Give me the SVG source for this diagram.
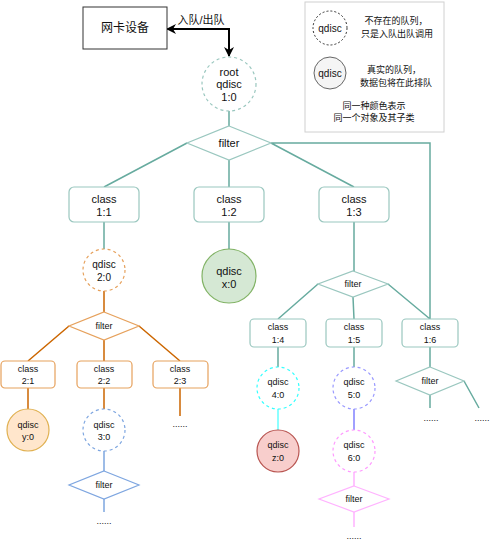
<svg xmlns="http://www.w3.org/2000/svg" width="500" height="541" viewBox="0 0 500 541">
<defs>
<marker id="ah" viewBox="0 0 10 10" refX="9" refY="5" markerWidth="5" markerHeight="5" orient="auto-start-reverse" markerUnits="strokeWidth">
<path d="M0,0 L10,5 L0,10 L3,5 z" fill="#000"/>
</marker>
</defs>
<style>
text{font-family:"Liberation Sans","Noto Sans CJK SC",sans-serif;fill:#111;text-anchor:middle;dominant-baseline:central}
.f12{font-size:12px}.f11{font-size:11px}.f10{font-size:10px}.f9{font-size:9px}
.e{fill:none;stroke-width:1.5}
.teal{stroke:#67AB9F}.org{stroke:#CC6600}.blu{stroke:#7EA6E0}.cya{stroke:#66FFFF}.pur{stroke:#8080FF}.pnk{stroke:#FFB3FF}
.nt{fill:#fff;stroke:#9AC7BF;stroke-width:1.2}
.no{fill:#fff;stroke:#E6A15C;stroke-width:1.2}
.dash{stroke-dasharray:3 3}
</style>
<rect width="500" height="541" fill="#fff"/>
<g id="connectors">
<path class="e" d="M167,29 H229 V56" stroke="#000" stroke-width="2" marker-start="url(#ah)" marker-end="url(#ah)" style="stroke:#000;stroke-width:2"/>
<path class="e teal" d="M229,111 V126 M187,143 L104,187 M229,160 V187 M271,143 L354,187 M271,143 H430 V319 M104,222 V249 M229,222 V249 M354,222 V271 M318,284 L278,319 M353,297 L354,319 M388,284 L430,319 M278,347 V367 M354,347 V367 M430,347 V367 M430,395 V408 M464,381 L479,408"/>
<path class="e org" d="M104,291 V312 M69,326 L28,361 M104,340 V361 M139,326 L180,361 M28,388 V409 M104,388 V409 M180,388 V416"/>
<path class="e blu" d="M104,451 V471 M104,499 V512"/>
<path class="e cya" d="M278,409 V430"/>
<path class="e pur" d="M354,409 V430"/>
<path class="e pnk" d="M354,472 V486 M354,512 V527"/>
<rect x="183" y="14" width="38" height="13" fill="#fff"/>
<text class="f11" x="201" y="20">入队/出队</text>
</g>
<g id="nic"><rect x="83" y="7" width="84" height="42" fill="#fff" stroke="#333"/><text class="f12" x="125" y="28">网卡设备</text></g>
<g id="root"><circle cx="229" cy="84" r="27" class="nt dash"/><text class="f11" x="229" y="72">root</text><text class="f11" x="229" y="84">qdisc</text><text class="f11" x="229" y="97">1:0</text></g>
<g id="filter1"><polygon points="229,126 271,143 229,160 187,143" class="nt"/><text class="f11" x="229" y="143">filter</text></g>
<g id="class11"><rect x="69" y="187" width="70" height="35" rx="5" class="nt"/><text class="f11" x="104" y="199">class</text><text class="f11" x="104" y="212">1:1</text></g>
<g id="class12"><rect x="194" y="187" width="70" height="35" rx="5" class="nt"/><text class="f11" x="229" y="199">class</text><text class="f11" x="229" y="212">1:2</text></g>
<g id="class13"><rect x="319" y="187" width="70" height="35" rx="5" class="nt"/><text class="f11" x="354" y="199">class</text><text class="f11" x="354" y="212">1:3</text></g>
<g id="qdisc20"><circle cx="104" cy="270" r="21" class="no dash"/><text class="f10" x="104" y="264">qdisc</text><text class="f10" x="104" y="277">2:0</text></g>
<g id="qdiscx0"><circle cx="229" cy="276" r="27" fill="#d5e8d4" stroke="#82b366" stroke-width="1.2"/><text class="f11" x="229" y="271">qdisc</text><text class="f11" x="229" y="284">x:0</text></g>
<g id="filter13"><polygon points="353,271 388,284 353,297 318,284" class="nt"/><text class="f9" x="353" y="284">filter</text></g>
<g id="class14"><rect x="250" y="319" width="56" height="28" rx="4" class="nt"/><text class="f9" x="278" y="327">class</text><text class="f9" x="278" y="340">1:4</text></g>
<g id="class15"><rect x="326" y="319" width="56" height="28" rx="4" class="nt"/><text class="f9" x="354" y="327">class</text><text class="f9" x="354" y="340">1:5</text></g>
<g id="class16"><rect x="402" y="319" width="56" height="28" rx="4" class="nt"/><text class="f9" x="430" y="327">class</text><text class="f9" x="430" y="340">1:6</text></g>
<g id="qdisc40"><circle cx="278" cy="388" r="21" fill="#fff" stroke="#33FFFF" stroke-width="1.2" class="dash"/><text class="f9" x="278" y="382">qdisc</text><text class="f9" x="278" y="395">4:0</text></g>
<g id="qdisc50"><circle cx="354" cy="388" r="21" fill="#fff" stroke="#9999FF" stroke-width="1.2" class="dash"/><text class="f9" x="354" y="382">qdisc</text><text class="f9" x="354" y="395">5:0</text></g>
<g id="filter16"><polygon points="430,367 464,381 430,395 396,381" class="nt"/><text class="f9" x="430" y="381">filter</text></g>
<g id="qdiscz0"><circle cx="278" cy="451" r="21" fill="#f8cecc" stroke="#b85450" stroke-width="1.2"/><text class="f9" x="278" y="445">qdisc</text><text class="f9" x="278" y="458">z:0</text></g>
<g id="qdisc60"><circle cx="354" cy="451" r="21" fill="#fff" stroke="#FF99FF" stroke-width="1.2" class="dash"/><text class="f9" x="354" y="445">qdisc</text><text class="f9" x="354" y="458">6:0</text></g>
<g id="filter60"><polygon points="354,486 389,499 354,512 319,499" fill="#fff" stroke="#FFB3FF" stroke-width="1.2"/><text class="f9" x="354" y="499">filter</text></g>
<g id="filter20"><polygon points="104,312 139,326 104,340 69,326" class="no"/><text class="f9" x="104" y="326">filter</text></g>
<g id="class21"><rect x="1" y="361" width="54" height="27" rx="4" class="no"/><text class="f9" x="28" y="369">class</text><text class="f9" x="28" y="381">2:1</text></g>
<g id="class22"><rect x="77" y="361" width="55" height="27" rx="4" class="no"/><text class="f9" x="104" y="369">class</text><text class="f9" x="104" y="381">2:2</text></g>
<g id="class23"><rect x="153" y="361" width="55" height="27" rx="4" class="no"/><text class="f9" x="180" y="369">class</text><text class="f9" x="180" y="381">2:3</text></g>
<g id="qdiscy0"><circle cx="28" cy="430" r="21" fill="#ffe6cc" stroke="#E0B050" stroke-width="1.2"/><text class="f9" x="28" y="425">qdisc</text><text class="f9" x="28" y="437">y:0</text></g>
<g id="qdisc30"><circle cx="104" cy="430" r="21" fill="#fff" stroke="#7EA6E0" stroke-width="1.2" class="dash"/><text class="f9" x="104" y="425">qdisc</text><text class="f9" x="104" y="437">3:0</text></g>
<g id="filter30"><polygon points="104,471 139,485 104,499 69,485" fill="#fff" stroke="#7EA6E0" stroke-width="1.2"/><text class="f9" x="104" y="485">filter</text></g>
<g id="dots">
<text class="f9" x="180" y="424">......</text>
<text class="f9" x="104" y="521">......</text>
<text class="f9" x="431" y="418">......</text>
<text class="f9" x="482" y="418">......</text>
<text class="f9" x="354" y="536">......</text>
</g>
<g id="legend">
<rect x="305" y="2" width="139" height="130" fill="#fff" stroke="#D0D0D0"/>
<circle cx="330" cy="28" r="17" fill="#fff" stroke="#333" stroke-dasharray="2 2"/>
<text class="f10" x="330" y="28">qdisc</text>
<text class="f9" x="396" y="21">不存在的队列，</text>
<text class="f9" x="397" y="34">只是入队出队调用</text>
<circle cx="330" cy="73" r="16" fill="#f5f5f5" stroke="#666"/>
<text class="f10" x="330" y="73">qdisc</text>
<text class="f9" x="394" y="70">真实的队列，</text>
<text class="f9" x="396" y="83">数据包将在此排队</text>
<text class="f9" x="374" y="106">同一种颜色表示</text>
<text class="f9" x="374" y="118">同一个对象及其子类</text>
</g>
</svg>
